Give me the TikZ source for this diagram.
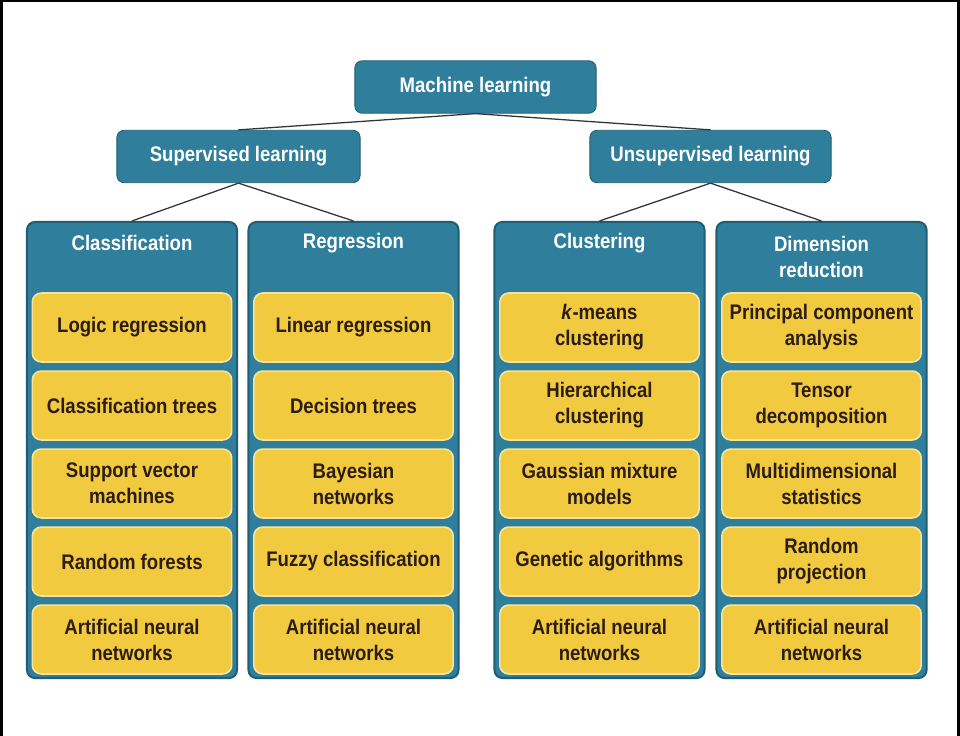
\documentclass[tikz,border=0pt]{standalone}
\usepackage{fontspec}
\newfontfamily\mlfont{Liberation Sans}[FakeStretch=0.88]
\usepackage{xcolor}
\definecolor{mlblue}{HTML}{2F7E9B}
\definecolor{mlbluedark}{HTML}{1F5D72}
\definecolor{leafyellow}{HTML}{F1CA3F}
\definecolor{leafedge}{HTML}{F7E49C}
\definecolor{leaftext}{HTML}{2B1D14}
\definecolor{linkgray}{HTML}{333333}

\tikzset{
  headbox/.style={fill=mlblue, draw=mlbluedark, line width=0.6pt, rounded corners=0.18cm,
    minimum height=1.31cm, text=white, align=center,
    font=\mlfont\bfseries\fontsize{15}{18.5}\selectfont},
  colbox/.style={fill=mlblue, draw=mlbluedark, line width=1.4pt, rounded corners=0.2cm,
    minimum width=5.25cm, minimum height=11.4cm},
  colhead/.style={text=white, align=center,
    font=\mlfont\bfseries\fontsize{15}{18.5}\selectfont},
  leaf/.style={fill=leafyellow, draw=leafedge, line width=1.2pt, rounded corners=0.22cm,
    minimum width=4.98cm, minimum height=1.72cm, text=leaftext, align=center,
    font=\mlfont\bfseries\fontsize{15}{18.5}\selectfont},
  link/.style={draw=linkgray, line width=0.9pt}
}

\begin{document}
\begin{tikzpicture}[x=0.025cm, y=-0.025cm]
        \useasboundingbox (0,0) rectangle (960,736);
        \fill[white] (0,0) rectangle (960,736);
        \draw[black, line width=0.07cm] (1.5,736) -- (1.5,1) -- (958.5,1) -- (958.5,736);

        % top levels
        \node[headbox, minimum width=6.03cm] (ml) at (475.5,87) {Machine learning};
        \node[headbox, minimum width=6.08cm] (sup) at (238.5,156.5) {Supervised learning};
        \node[headbox, minimum width=6.03cm] (unsup) at (710.5,156.5) {Unsupervised learning};

        % columns
        \node[colbox] (cls) at (132,450) {};
        \node[colbox] (reg) at (353.5,450) {};
        \node[colbox] (clu) at (599.5,450) {};
        \node[colbox] (dim) at (821.5,450) {};
        \node[colhead] (cls-head) at (132,243) {Classification};
        \node[colhead] (reg-head) at (353.5,243) {Regression};
        \node[colhead] (clu-head) at (599.5,243) {Clustering};
        \node[colhead] (dim-head) at (821.5,256.5) {Dimension\\reduction};

        \draw[link] (ml.south) -- (sup.north);
        \draw[link] (ml.south) -- (unsup.north);
        \draw[link] (sup.south) -- (cls.north);
        \draw[link] (sup.south) -- (reg.north);
        \draw[link] (unsup.south) -- (clu.north);
        \draw[link] (unsup.south) -- (dim.north);

        % methods
        \foreach \t [count=\i] in {Logic regression, Classification trees, {Support vector\\machines},
            Random forests, {Artificial neural\\networks}}
          \node[leaf] (cls-\i) at (132,249.5+78*\i) {\t};
        \foreach \t [count=\i] in {Linear regression, Decision trees, {Bayesian\\networks},
            Fuzzy classification, {Artificial neural\\networks}}
          \node[leaf] (reg-\i) at (353.5,249.5+78*\i) {\t};
        \foreach \t [count=\i] in {{\textit{k}-means\\clustering}, {Hierarchical\\clustering},
            {Gaussian mixture\\models}, Genetic algorithms, {Artificial neural\\networks}}
          \node[leaf] (clu-\i) at (599.5,249.5+78*\i) {\t};
        \foreach \t [count=\i] in {{Principal component\\analysis}, {Tensor\\decomposition},
            {Multidimensional\\statistics}, {Random\\projection}, {Artificial neural\\networks}}
          \node[leaf] (dim-\i) at (821.5,249.5+78*\i) {\t};
      \end{tikzpicture}
\end{document}
